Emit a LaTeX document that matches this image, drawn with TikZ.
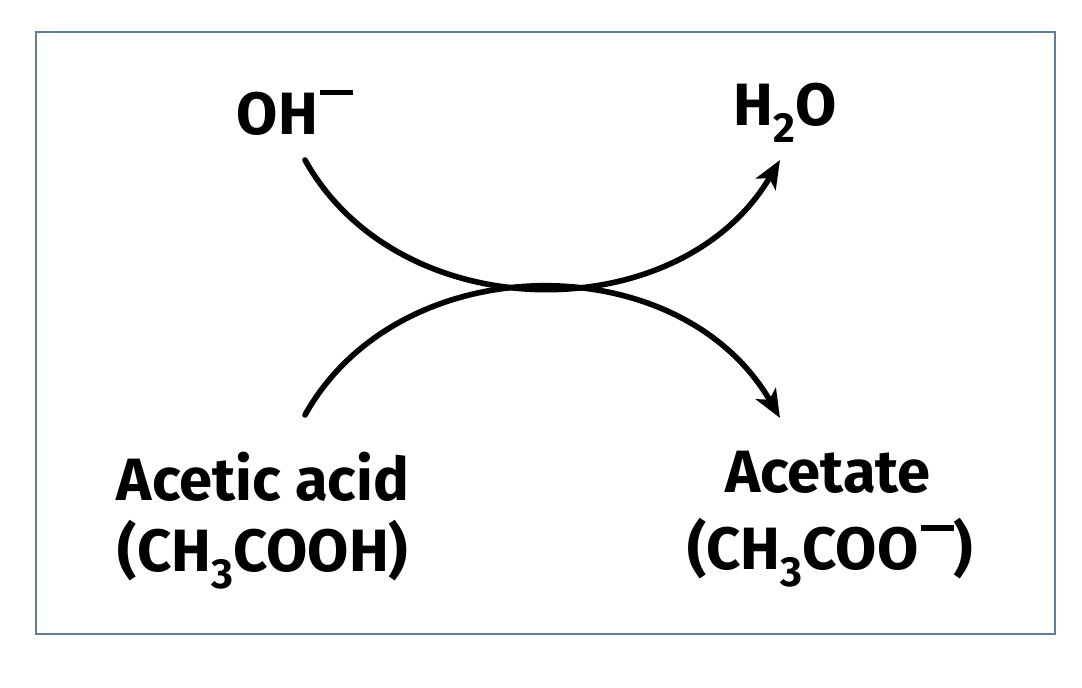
\documentclass[tikz,border=0pt]{standalone}
\usepackage{fontspec}
\setmainfont{Fira Sans}
\usetikzlibrary{arrows.meta}
\newcommand{\negsup}{\hspace{0.04em}\rule[0.66em]{0.55em}{0.09em}}
\newcommand{\subsc}[1]{\raisebox{-0.28em}{\fontsize{24}{24}\selectfont #1}}
\begin{document}
\begin{tikzpicture}[x=0.02cm,y=-0.02cm,
  lbl/.style={font=\fontsize{34}{40}\selectfont\bfseries, inner sep=0pt, align=center},
  curve/.style={line width=3.2pt, line cap=round}]
\useasboundingbox (0,0) rectangle (1082,688);
\draw[color={rgb,255:red,100;green,125;blue,150}, line width=1.3pt] (36,32) rectangle (1055,634);
\node[lbl] (oh) at (295,113) {OH\negsup};
\node[lbl] (h2o) at (785,113) {H\subsc{2}O};
\node[lbl] (aa) at (263,477) {Acetic acid};
\node[lbl] (aaf) at (263,555) {(CH\subsc{3}COOH)};
\node[lbl] (ac) at (828,472) {Acetate};
\node[lbl] (acf) at (830,553) {(CH\subsc{3}COO\negsup)};
\coordinate (s1) at (305,160); \coordinate (e1) at (780,160);
\coordinate (s2) at (305,415); \coordinate (e2) at (780,418);
\draw[curve, -{Stealth[length=16pt,width=13pt,inset=4pt]}] (s1) .. controls (400,330) and (680,330) .. (e1);
\draw[curve, -{Stealth[length=16pt,width=13pt,inset=4pt]}] (s2) .. controls (400,245) and (680,245) .. (e2);
\end{tikzpicture}
\end{document}
